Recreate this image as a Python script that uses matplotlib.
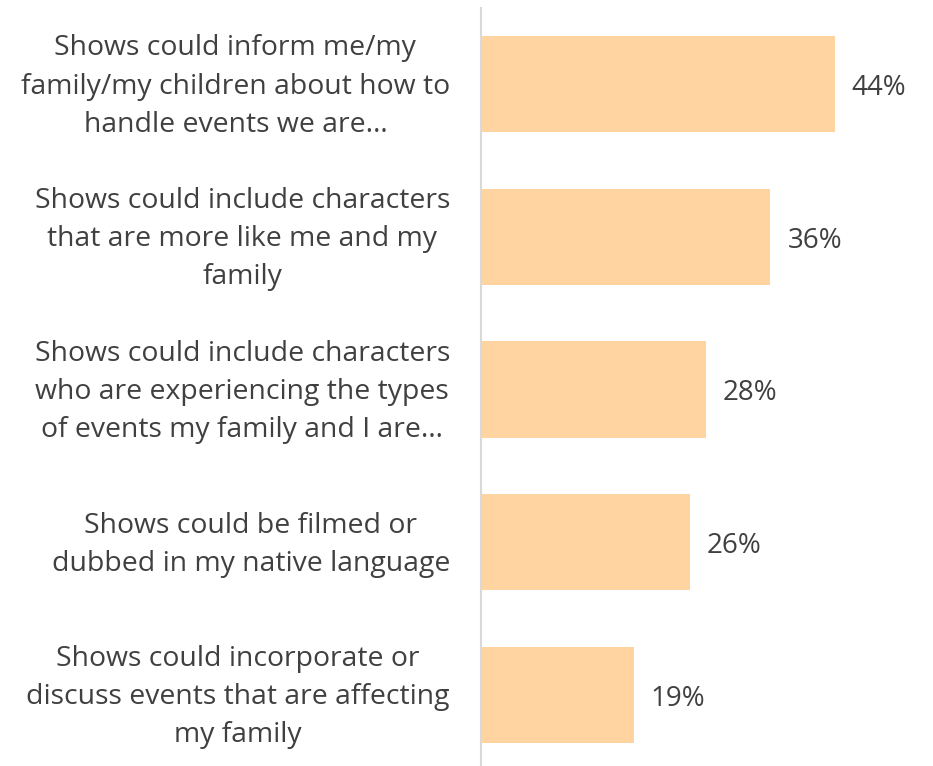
import matplotlib
matplotlib.use("Agg")
import matplotlib.pyplot as plt
from matplotlib.transforms import ScaledTranslation, blended_transform_factory

# Categories (top to bottom) and share of respondents (%)
CATEGORIES = [
    "Shows could inform me/my\nfamily/my children about how to\nhandle events we are…",
    "Shows could include characters\nthat are more like me and my\nfamily",
    "Shows could include characters\nwho are experiencing the types\nof events my family and I are…",
    "Shows could be filmed or\ndubbed in my native language",
    "Shows could incorporate or\ndiscuss events that are affecting\nmy family",
]
VALUES = [44, 36, 28, 26, 19]

BAR_COLOR = "#FFD4A0"
TEXT_COLOR = "#404040"

plt.rcParams["font.family"] = ["Open Sans", "DejaVu Sans"]

fig = plt.figure(figsize=(9.33, 7.66), dpi=100)
ax = fig.add_axes([481 / 933, 0.0, 402 / 933, 758 / 766])

y = list(range(len(CATEGORIES)))
ax.barh(y, VALUES, height=0.63, color=BAR_COLOR)
down = ScaledTranslation(0, -4 / 100, fig.dpi_scale_trans)
for yi, v in zip(y, VALUES):
    ax.text(v + 2.1, yi, f"{v}%", va="center", ha="left",
            fontsize=20, color=TEXT_COLOR, transform=ax.transData + down)

# category labels, placed left of the axis line
lab_tr = blended_transform_factory(ax.transAxes, ax.transData) + \
    ScaledTranslation(-31 / 100, -2.5 / 100, fig.dpi_scale_trans)
for yi, cat in zip(y, CATEGORIES):
    ax.text(0, yi, cat, ha="right", va="center", multialignment="center",
            fontsize=20.4, color=TEXT_COLOR, linespacing=1.48,
            transform=lab_tr, clip_on=False)

ax.set_xlim(0, 50)
ax.set_ylim(4.466, -0.498)
ax.set_yticks([])
ax.set_xticks([])
for side in ("top", "right", "bottom"):
    ax.spines[side].set_visible(False)
ax.spines["left"].set_color("#D9D9D9")
ax.spines["left"].set_linewidth(1.5)

fig.savefig("out.png", dpi=100)
